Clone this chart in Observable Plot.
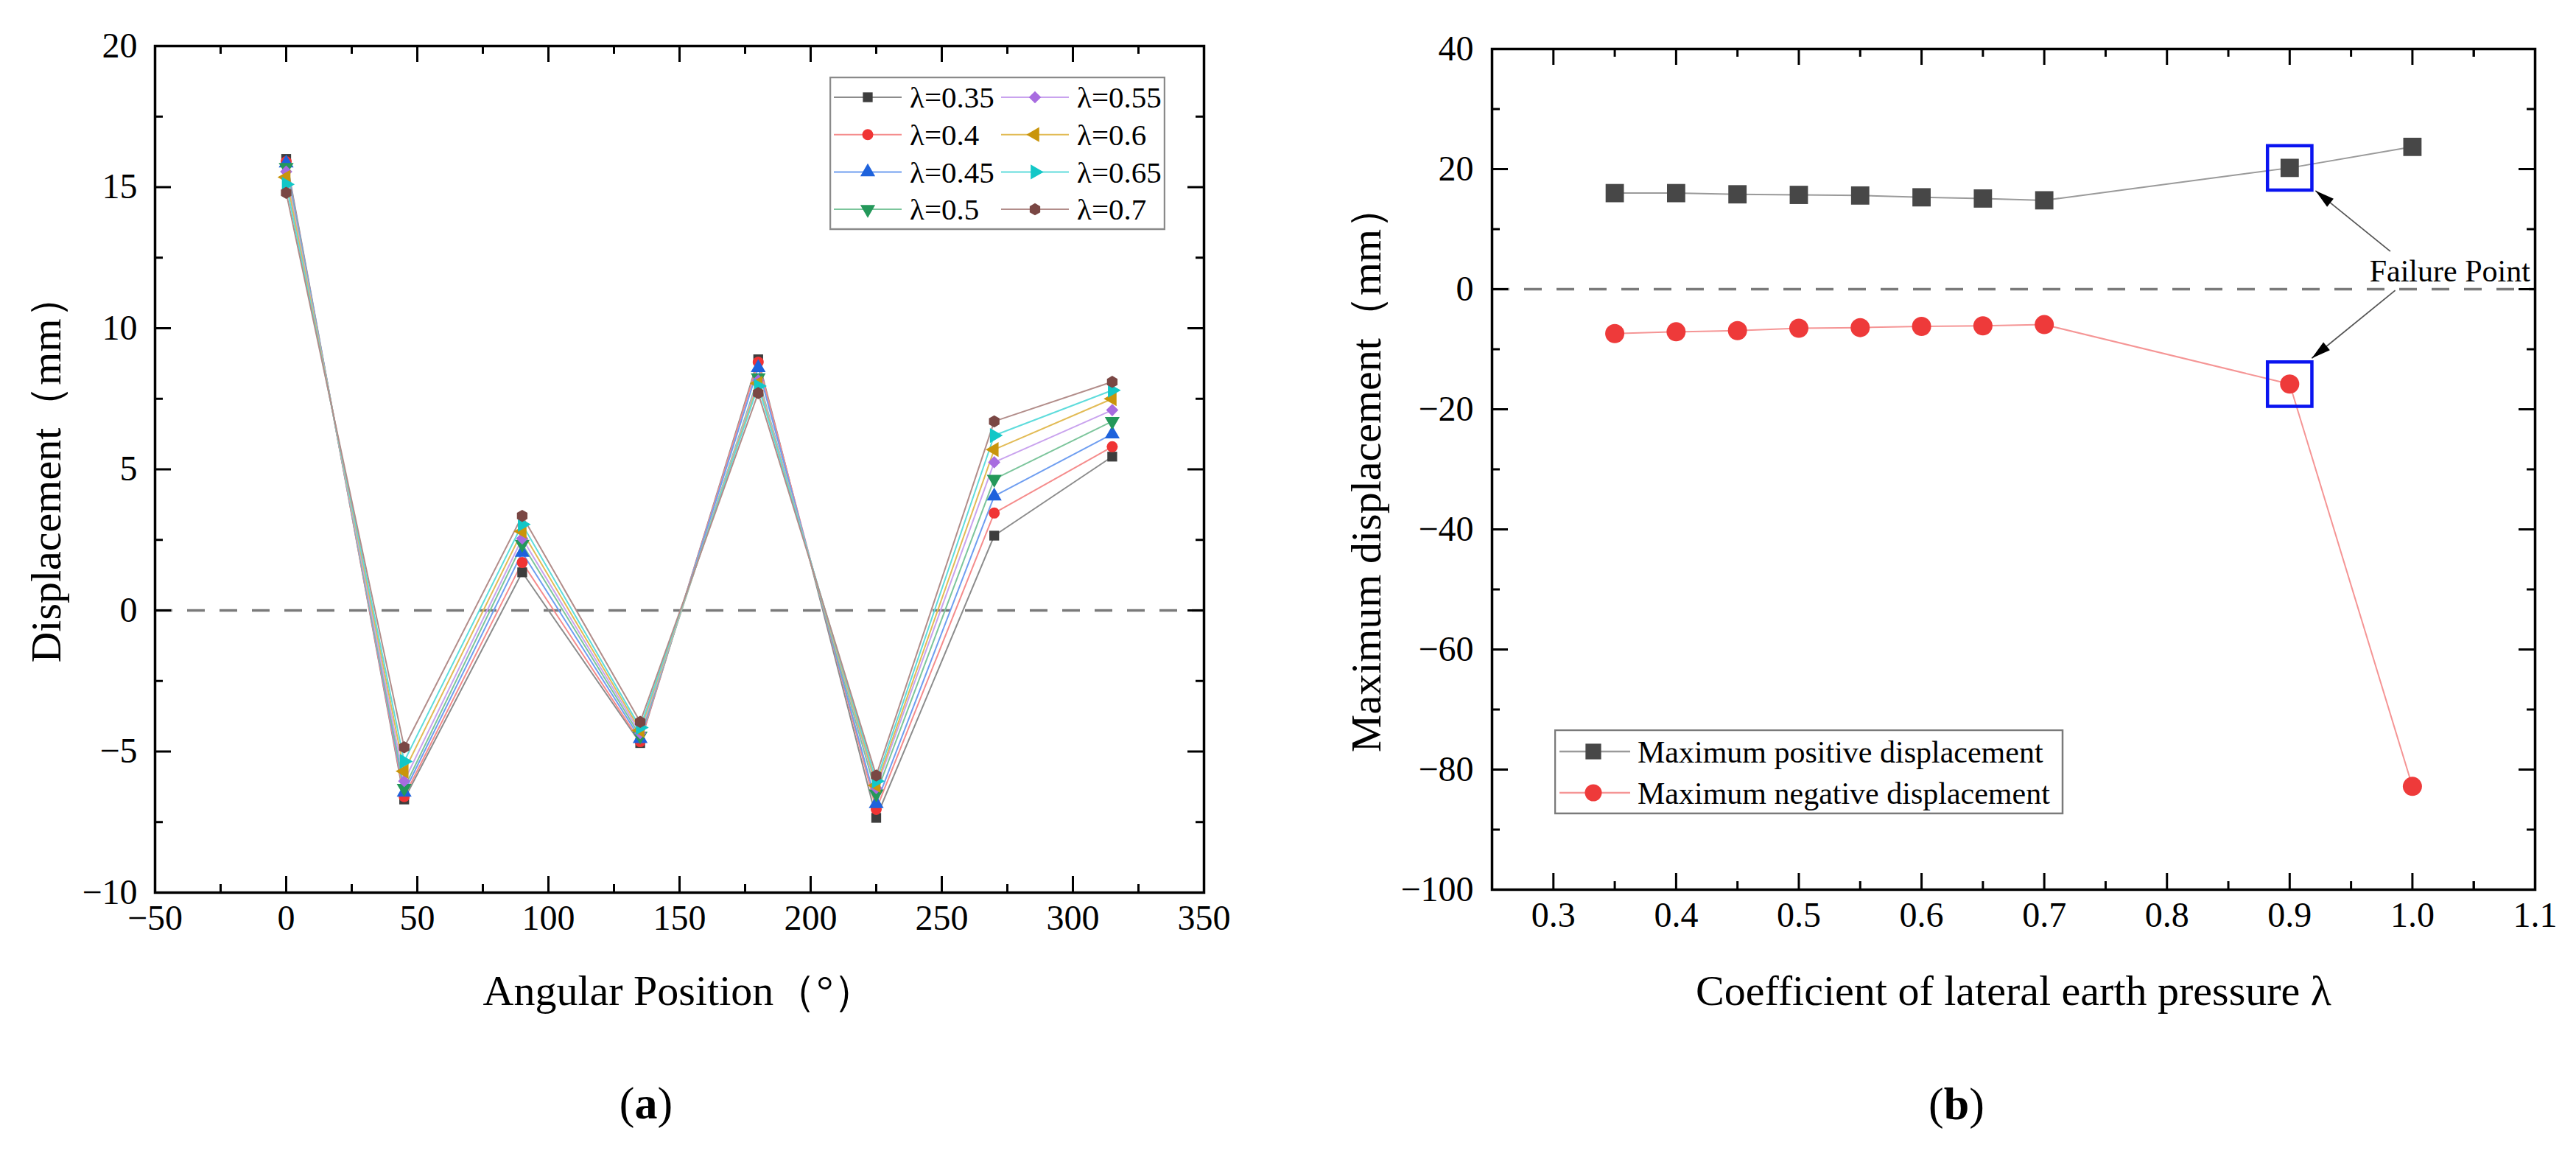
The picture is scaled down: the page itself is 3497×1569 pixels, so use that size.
<!DOCTYPE html>
<html>
<head>
<meta charset="utf-8">
<script src="https://cdn.jsdelivr.net/npm/d3@7"></script>
<script src="https://cdn.jsdelivr.net/npm/@observablehq/plot@0.6"></script>
<style>
  body { margin: 0; background: #fff; }
  #wrap { position: relative; width: 3497px; height: 1569px; font-family: "Liberation Serif", "Times New Roman", serif; }
  .panel { position: absolute; top: 0; }
  .cap { position: absolute; font-size: 62px; transform: translate(-50%, -50%); }
  .legend { position: absolute; }
</style>
</head>
<body>
<div id="wrap"></div>
<script>
// ---- panel (a): displacement vs angular position ----
const angles = [0, 45, 90, 135, 180, 225, 270, 315];
const lambdaA = ["0.35", "0.4", "0.45", "0.5", "0.55", "0.6", "0.65", "0.7"];
const dispL035 = [16.0, -6.7, 1.35, -4.7, 8.9, -7.35, 2.65, 5.45];
const dispL040 = [15.9, -6.6, 1.7, -4.65, 8.8, -7.05, 3.45, 5.8];
const dispL045 = [15.85, -6.45, 2.05, -4.55, 8.6, -6.85, 4.05, 6.25];
const dispL050 = [15.7, -6.3, 2.35, -4.45, 8.25, -6.5, 4.65, 6.7];
const dispL055 = [15.55, -6.05, 2.55, -4.35, 8.15, -6.3, 5.25, 7.1];
const dispL060 = [15.35, -5.7, 2.8, -4.25, 8.05, -6.2, 5.7, 7.5];
const dispL065 = [15.1, -5.35, 3.05, -4.15, 7.95, -6.05, 6.2, 7.8];
const dispL070 = [14.8, -4.85, 3.35, -3.95, 7.7, -5.85, 6.7, 8.1];
const xTicksA = [-50, 0, 50, 100, 150, 200, 250, 300, 350];
const yTicksA = [-10, -5, 0, 5, 10, 15, 20];

// ---- panel (b): max displacement vs lambda ----
const lambdaB = [0.35, 0.4, 0.45, 0.5, 0.55, 0.6, 0.65, 0.7, 0.9, 1.0];
const maxPositive = [16.0, 16.0, 15.8, 15.7, 15.6, 15.3, 15.1, 14.8, 20.2, 23.7];
const maxNegative = [-7.4, -7.1, -6.9, -6.5, -6.4, -6.2, -6.1, -5.9, -15.8, -82.8];
const failureLambda = 0.9;
const failureLabel = {lambda: 1.096, disp: 2.9, text: "Failure Point"};
const failureArrows = [
  {x1: 0.982, y1: 6.3, x2: 0.921, y2: 16.4},
  {x1: 0.986, y1: -0.2, x2: 0.918, y2: -11.5}
];
const xTicksB = [0.3, 0.4, 0.5, 0.6, 0.7, 0.8, 0.9, 1.0, 1.1];
const yTicksB = [-100, -80, -60, -40, -20, 0, 20, 40];

// ---- styling ----
const markerColors = ["#3d3d3d", "#f03434", "#1e62dc", "#24985a", "#a86ce0", "#c9950c", "#12c7c7", "#7a4744"];
const lineColors = ["#8c8c8c", "#f58c8c", "#6f9ef0", "#7cc59c", "#c9a3ee", "#e2bb55", "#5fdcdc", "#b28d8a"];
const FONT = '"Liberation Serif", "Times New Roman", serif';

const sqrt3 = Math.sqrt(3);
function turnedTriangle(rot) {
  return {draw(ctx, size) {
    const y = -Math.sqrt(size / (sqrt3 * 3));
    const c = Math.cos(rot), s = Math.sin(rot);
    [[0, y * 2], [-sqrt3 * y, -y], [sqrt3 * y, -y]].forEach(([px, py], i) => {
      const qx = px * c - py * s, qy = px * s + py * c;
      i ? ctx.lineTo(qx, qy) : ctx.moveTo(qx, qy);
    });
    ctx.closePath();
  }};
}
const hexagon = {draw(ctx, size) {
  const r = Math.sqrt(size / (1.5 * sqrt3));
  for (let i = 0; i < 6; i++) {
    const a = Math.PI / 3 * i + Math.PI / 6;
    i ? ctx.lineTo(r * Math.cos(a), r * Math.sin(a)) : ctx.moveTo(r * Math.cos(a), r * Math.sin(a));
  }
  ctx.closePath();
}};
// filled arrow head, tip at the origin, pointing along angle (pixel space)
function arrowHead(angle, L = 26, w = 7) {
  const c = Math.cos(angle), s = Math.sin(angle);
  return {draw(ctx) {
    const bx = -L * c, by = -L * s;
    ctx.moveTo(0, 0);
    ctx.lineTo(bx - w * s, by + w * c);
    ctx.lineTo(bx + w * s, by - w * c);
    ctx.closePath();
  }};
}
const symbolsA = [d3.symbolSquare, d3.symbolCircle, d3.symbolTriangle, turnedTriangle(Math.PI),
  d3.symbolDiamond2 || d3.symbolDiamond, turnedTriangle(-Math.PI / 2), turnedTriangle(Math.PI / 2), hexagon];

const fmtInt = d3.format("d");
const fmt1 = d3.format(".1f");

function boxTicks(xMaj, xMin, yMaj, yMin, pw, ph) {
  const s = {stroke: "#000", strokeWidth: 3};
  const big = 22, small = 11;
  return [
    Plot.tickX(xMaj, {x: d => d, insetTop: ph - big, ...s}),
    Plot.tickX(xMaj, {x: d => d, insetBottom: ph - big, ...s}),
    Plot.tickX(xMin, {x: d => d, insetTop: ph - small, ...s}),
    Plot.tickX(xMin, {x: d => d, insetBottom: ph - small, ...s}),
    Plot.tickY(yMaj, {y: d => d, insetRight: pw - big, ...s}),
    Plot.tickY(yMaj, {y: d => d, insetLeft: pw - big, ...s}),
    Plot.tickY(yMin, {y: d => d, insetRight: pw - small, ...s}),
    Plot.tickY(yMin, {y: d => d, insetLeft: pw - small, ...s})
  ];
}
const mids = arr => d3.pairs(arr, (a, b) => (a + b) / 2);
const titleStyle = {fontSize: 58, textAnchor: "middle", lineAnchor: "middle", text: d => d};

const wrap = d3.select("#wrap");

// ================= panel (a) =================
const A = {w: 1700, h: 1400, ml: 210, mr: 66, mt: 62, mb: 189};
const seriesA = [dispL035, dispL040, dispL045, dispL050, dispL055, dispL060, dispL065, dispL070];
const rowsA = seriesA.map((vals, i) => angles.map((a, j) => ({angle: a, disp: vals[j], lam: lambdaA[i]})));

const chartA = Plot.plot({
  width: A.w, height: A.h,
  marginLeft: A.ml, marginRight: A.mr, marginTop: A.mt, marginBottom: A.mb,
  style: {fontFamily: FONT, fontSize: "48px", background: "white", overflow: "visible"},
  x: {domain: [-50, 350]},
  y: {domain: [-10, 20]},
  marks: [
    Plot.ruleY([0], {stroke: "#7a7a7a", strokeWidth: 3.5, strokeDasharray: "24,20"}),
    ...rowsA.map((rows, i) => Plot.line(rows, {x: "angle", y: "disp", stroke: lineColors[i], strokeWidth: 2})),
    ...rowsA.map((rows, i) => Plot.dot(rows, {x: "angle", y: "disp", symbol: symbolsA[i], fill: markerColors[i], r: 7.5})),
    Plot.frame({stroke: "#000", strokeWidth: 3.5}),
    ...boxTicks(xTicksA, mids(xTicksA), yTicksA, mids(yTicksA), A.w - A.ml - A.mr, A.h - A.mt - A.mb),
    Plot.axisX(xTicksA, {tickSize: 0, tickPadding: 16, tickFormat: fmtInt, fontSize: 48, label: null}),
    Plot.axisY(yTicksA, {tickSize: 0, tickPadding: 24, tickFormat: fmtInt, fontSize: 48, label: null}),
    Plot.text(["Angular Position（°）"], {frameAnchor: "bottom", dy: 134, ...titleStyle}),
    Plot.text(["Displacement（mm）"], {frameAnchor: "left", dx: -147, rotate: -90, ...titleStyle})
  ]
});
wrap.append("div").attr("class", "panel").style("left", "0px").append(() => chartA);

// legend (a)
const legA = wrap.append("svg").attr("class", "legend")
  .style("left", "1126px").style("top", "104px").attr("width", 456).attr("height", 209);
legA.append("rect").attr("x", 1).attr("y", 1).attr("width", 454).attr("height", 206)
  .attr("fill", "white").attr("stroke", "#8a8a8a").attr("stroke-width", 2.5);
lambdaA.forEach((lam, i) => {
  const col = Math.floor(i / 4), row = i % 4;
  const x0 = col ? 233 : 6, cy = 28 + row * 50.7;
  const g = legA.append("g");
  g.append("line").attr("x1", x0).attr("x2", x0 + 92).attr("y1", cy).attr("y2", cy)
    .attr("stroke", lineColors[i]).attr("stroke-width", 2);
  g.append("path").attr("transform", `translate(${x0 + 46},${cy})`)
    .attr("d", d3.symbol(symbolsA[i], Math.PI * 7.5 * 7.5)()).attr("fill", markerColors[i]);
  g.append("text").attr("x", x0 + 103).attr("y", cy).attr("dy", "0.35em")
    .attr("font-family", FONT).attr("font-size", 41).text(`λ=${lam}`);
});

wrap.append("div").attr("class", "cap").style("left", "877px").style("top", "1497px")
  .html("(<b>a</b>)");

// ================= panel (b) =================
const B = {left: 1750, w: 1747, h: 1400, ml: 275, mr: 56, mt: 66, mb: 193};
const xDomB = [0.25, 1.1], yDomB = [-100, 40];
const rowsPos = lambdaB.map((l, i) => ({lambda: l, disp: maxPositive[i]}));
const rowsNeg = lambdaB.map((l, i) => ({lambda: l, disp: maxNegative[i]}));
const failures = [...rowsPos, ...rowsNeg].filter(d => d.lambda === failureLambda);

// arrow head direction in pixel space
const kx = (B.w - B.ml - B.mr) / (xDomB[1] - xDomB[0]);
const ky = (B.h - B.mt - B.mb) / (yDomB[1] - yDomB[0]);
const headMarks = failureArrows.map(a => {
  const ang = Math.atan2(-(a.y2 - a.y1) * ky, (a.x2 - a.x1) * kx);
  return Plot.dot([a], {x: "x2", y: "y2", symbol: arrowHead(ang), fill: "#000", r: 10});
});

const chartB = Plot.plot({
  width: B.w, height: B.h,
  marginLeft: B.ml, marginRight: B.mr, marginTop: B.mt, marginBottom: B.mb,
  style: {fontFamily: FONT, fontSize: "48px", background: "white", overflow: "visible"},
  x: {domain: xDomB},
  y: {domain: yDomB},
  marks: [
    Plot.ruleY([0], {stroke: "#7a7a7a", strokeWidth: 3.5, strokeDasharray: "24,20"}),
    Plot.line(rowsPos, {x: "lambda", y: "disp", stroke: "#9a9a9a", strokeWidth: 2}),
    Plot.line(rowsNeg, {x: "lambda", y: "disp", stroke: "#f59595", strokeWidth: 2}),
    Plot.dot(rowsPos, {x: "lambda", y: "disp", symbol: "square", fill: "#474747", r: 14}),
    Plot.dot(rowsNeg, {x: "lambda", y: "disp", symbol: "circle", fill: "#ee3a3a", r: 13}),
    Plot.dot(failures, {x: "lambda", y: "disp", symbol: "square", r: 34, fill: "none", stroke: "#0a14f0", strokeWidth: 4.5}),
    Plot.link(failureArrows, {x1: "x1", y1: "y1", x2: "x2", y2: "y2", stroke: "#555", strokeWidth: 1.8}),
    ...headMarks,
    Plot.text([failureLabel], {x: "lambda", y: "disp", text: "text", fontSize: 42, textAnchor: "end", fill: "#000"}),
    Plot.frame({stroke: "#000", strokeWidth: 3.5}),
    ...boxTicks(xTicksB, mids(xTicksB).concat([1.05]), yTicksB, mids(yTicksB), B.w - B.ml - B.mr, B.h - B.mt - B.mb),
    Plot.axisX(xTicksB, {tickSize: 0, tickPadding: 16, tickFormat: fmt1, fontSize: 48, label: null}),
    Plot.axisY(yTicksB, {tickSize: 0, tickPadding: 25, tickFormat: fmtInt, fontSize: 48, label: null}),
    Plot.text(["Coefficient of lateral earth pressure λ"], {frameAnchor: "bottom", dy: 138, ...titleStyle}),
    Plot.text(["Maximum displacement（mm）"], {frameAnchor: "left", dx: -170, rotate: -90, ...titleStyle})
  ]
});
wrap.append("div").attr("class", "panel").style("left", B.left + "px").append(() => chartB);

// legend (b)
const legB = wrap.append("svg").attr("class", "legend")
  .style("left", "2110px").style("top", "990px").attr("width", 692).attr("height", 116);
legB.append("rect").attr("x", 1).attr("y", 1).attr("width", 689).attr("height", 113)
  .attr("fill", "white").attr("stroke", "#7a7a7a").attr("stroke-width", 2.5);
[["Maximum positive displacement", d3.symbolSquare, "#474747", "#9a9a9a", 12],
 ["Maximum negative displacement", d3.symbolCircle, "#ee3a3a", "#f59595", 11.5]].forEach(([label, sym, fc, lc, r], i) => {
  const cy = 30 + i * 56;
  legB.append("line").attr("x1", 7).attr("x2", 103).attr("y1", cy).attr("y2", cy).attr("stroke", lc).attr("stroke-width", 2.5);
  legB.append("path").attr("transform", `translate(53,${cy})`).attr("d", d3.symbol(sym, Math.PI * r * r)()).attr("fill", fc);
  legB.append("text").attr("x", 113).attr("y", cy).attr("dy", "0.35em")
    .attr("font-family", FONT).attr("font-size", 42).text(label);
});

wrap.append("div").attr("class", "cap").style("left", "2656px").style("top", "1498px")
  .html("(<b>b</b>)");
</script>
</body>
</html>
